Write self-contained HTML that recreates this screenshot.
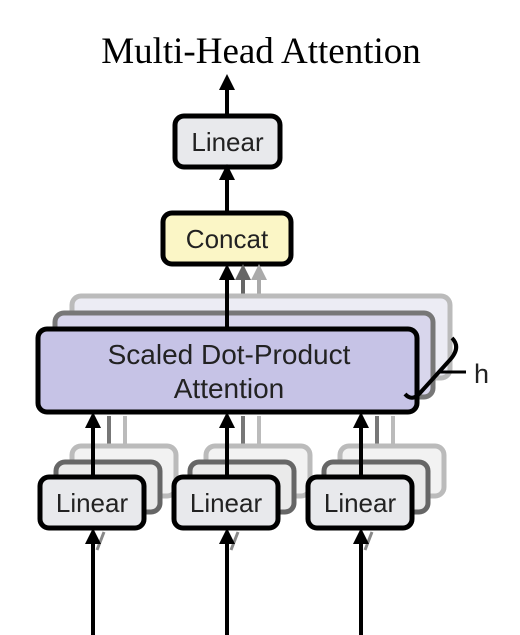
<!DOCTYPE html>
<html><head><meta charset="utf-8"><style>
html,body{margin:0;padding:0;background:#fff;}
svg{display:block;}
.t{font-family:"Liberation Sans",sans-serif;font-size:26px;fill:#222;text-anchor:middle;}
.s{font-family:"Liberation Sans",sans-serif;font-size:28px;fill:#222;text-anchor:middle;}
</style></head><body>
<svg width="520" height="635" viewBox="0 0 520 635" xmlns="http://www.w3.org/2000/svg">
<defs>
<marker id="a" viewBox="0 0 10 10" refX="5" refY="5" markerWidth="4" markerHeight="4" orient="auto"><path d="M0,0 L10,5 L0,10 z" fill="#000"/></marker>
<marker id="g1" viewBox="0 0 10 10" refX="5" refY="5" markerWidth="4" markerHeight="4" orient="auto"><path d="M0,0 L10,5 L0,10 z" fill="#666"/></marker>
<marker id="g2" viewBox="0 0 10 10" refX="5" refY="5" markerWidth="4" markerHeight="4" orient="auto"><path d="M0,0 L10,5 L0,10 z" fill="#aaa"/></marker>
</defs>
<text x="261" y="63" font-family="Liberation Serif,serif" font-size="37" text-anchor="middle" fill="#000">Multi-Head Attention</text>
<line x1="227" y1="116" x2="227" y2="82" stroke="#000" stroke-width="4" marker-end="url(#a)"/>
<rect x="175" y="116" width="105" height="51" rx="9" fill="#e8e9ec" stroke="#000" stroke-width="5"/>
<text class="t" x="227.5" y="151">Linear</text>
<line x1="227" y1="213" x2="227" y2="172" stroke="#000" stroke-width="4" marker-end="url(#a)"/>
<rect x="163" y="213" width="128" height="51" rx="9" fill="#fbf6c6" stroke="#000" stroke-width="5"/>
<text class="t" x="227" y="248">Concat</text>
<line x1="259" y1="296" x2="259" y2="272" stroke="#aaa" stroke-width="4" marker-end="url(#g2)"/>
<line x1="243" y1="313" x2="243" y2="272" stroke="#666" stroke-width="4" marker-end="url(#g1)"/>
<rect x="72" y="296" width="378" height="82" rx="9" fill="#ececf4" stroke="#bbb" stroke-width="5"/>
<rect x="55" y="313" width="378" height="84" rx="9" fill="#d8d6ec" stroke="#777" stroke-width="5"/>
<line x1="227" y1="328" x2="227" y2="272" stroke="#000" stroke-width="4" marker-end="url(#a)"/>
<rect x="38" y="329" width="379" height="83" rx="9" fill="#c6c3e6" stroke="#000" stroke-width="5"/>
<text class="s" x="229" y="364">Scaled Dot-Product</text>
<text class="s" x="229" y="398">Attention</text>
<path d="M452,338 Q462,348 448,362 L420,393 Q412,402 405,394" fill="none" stroke="#000" stroke-width="4"/>
<line x1="440" y1="372" x2="466" y2="372" stroke="#000" stroke-width="3"/>
<text x="474" y="383" font-family="Liberation Sans,sans-serif" font-size="27" fill="#222">h</text>
<g id="lg">
<line x1="125" y1="446" x2="125" y2="416" stroke="#bbb" stroke-width="4"/>
<line x1="109" y1="462" x2="109" y2="416" stroke="#777" stroke-width="4"/>
<rect x="72" y="446" width="104" height="50" rx="9" fill="#f2f2f2" stroke="#bbb" stroke-width="5"/>
<rect x="56" y="462" width="104" height="50" rx="9" fill="#eaeaea" stroke="#666" stroke-width="5"/>
<line x1="93" y1="476" x2="93" y2="420" stroke="#000" stroke-width="4" marker-end="url(#a)"/>
<rect x="40" y="477" width="104" height="51" rx="9" fill="#e8e9ec" stroke="#000" stroke-width="5"/>
<text class="t" x="92" y="512">Linear</text>
<line x1="97" y1="550" x2="104" y2="532" stroke="#888" stroke-width="3"/>
<line x1="93" y1="635" x2="93" y2="536" stroke="#000" stroke-width="4" marker-end="url(#a)"/>
</g>
<use href="#lg" x="134"/>
<use href="#lg" x="268"/>
</svg>
</body></html>
